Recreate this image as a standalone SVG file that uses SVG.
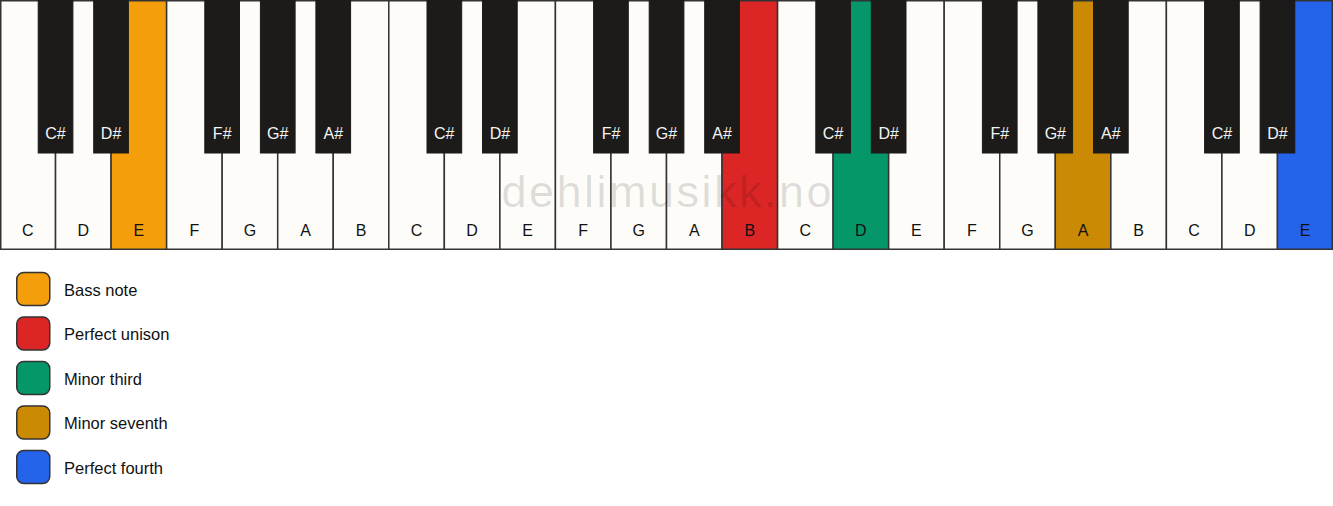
<svg xmlns="http://www.w3.org/2000/svg" width="1333" height="506" viewBox="0 0 1333 506">
<style>
.wk{fill:#fdfcf9;stroke:#333;stroke-width:1.5}
.bk{fill:#1c1b19;stroke:#1c1b19;stroke-width:1}
.wl{font-family:"Liberation Sans",Arial,sans-serif;font-size:16px;fill:#111;text-anchor:middle}
.bl{font-family:"Liberation Sans",Arial,sans-serif;font-size:16px;fill:#f4f4f4;text-anchor:middle}
.lg{stroke:#333;stroke-width:1.5}
.lt{font-family:"Liberation Sans",Arial,sans-serif;font-size:16.5px;fill:#111}
.wm{font-family:"Liberation Sans",Arial,sans-serif;font-size:45px;fill:#000;fill-opacity:0.12;text-anchor:middle}
</style>
<rect width="1333" height="506" fill="#ffffff"/>
<g id="white-keys">
<g id="wk-0"><rect class="wk" x="0.75" y="0.75" width="54.79" height="248.5"/><text class="wl" x="27.8" y="236">C</text></g>
<g id="wk-1"><rect class="wk" x="55.54" y="0.75" width="55.54" height="248.5"/><text class="wl" x="83.3" y="236">D</text></g>
<g id="wk-2"><rect class="wk" x="111.08" y="0.75" width="55.54" height="248.5" style="fill:#f59e0b"/><text class="wl" x="138.9" y="236">E</text></g>
<g id="wk-3"><rect class="wk" x="166.63" y="0.75" width="55.54" height="248.5"/><text class="wl" x="194.4" y="236">F</text></g>
<g id="wk-4"><rect class="wk" x="222.17" y="0.75" width="55.54" height="248.5"/><text class="wl" x="249.9" y="236">G</text></g>
<g id="wk-5"><rect class="wk" x="277.71" y="0.75" width="55.54" height="248.5"/><text class="wl" x="305.5" y="236">A</text></g>
<g id="wk-6"><rect class="wk" x="333.25" y="0.75" width="55.54" height="248.5"/><text class="wl" x="361" y="236">B</text></g>
<g id="wk-7"><rect class="wk" x="388.79" y="0.75" width="55.54" height="248.5"/><text class="wl" x="416.6" y="236">C</text></g>
<g id="wk-8"><rect class="wk" x="444.33" y="0.75" width="55.54" height="248.5"/><text class="wl" x="472.1" y="236">D</text></g>
<g id="wk-9"><rect class="wk" x="499.88" y="0.75" width="55.54" height="248.5"/><text class="wl" x="527.6" y="236">E</text></g>
<g id="wk-10"><rect class="wk" x="555.42" y="0.75" width="55.54" height="248.5"/><text class="wl" x="583.2" y="236">F</text></g>
<g id="wk-11"><rect class="wk" x="610.96" y="0.75" width="55.54" height="248.5"/><text class="wl" x="638.7" y="236">G</text></g>
<g id="wk-12"><rect class="wk" x="666.5" y="0.75" width="55.54" height="248.5"/><text class="wl" x="694.3" y="236">A</text></g>
<g id="wk-13"><rect class="wk" x="722.04" y="0.75" width="55.54" height="248.5" style="fill:#dc2626"/><text class="wl" x="749.8" y="236">B</text></g>
<g id="wk-14"><rect class="wk" x="777.58" y="0.75" width="55.54" height="248.5"/><text class="wl" x="805.4" y="236">C</text></g>
<g id="wk-15"><rect class="wk" x="833.13" y="0.75" width="55.54" height="248.5" style="fill:#059669"/><text class="wl" x="860.9" y="236">D</text></g>
<g id="wk-16"><rect class="wk" x="888.67" y="0.75" width="55.54" height="248.5"/><text class="wl" x="916.4" y="236">E</text></g>
<g id="wk-17"><rect class="wk" x="944.21" y="0.75" width="55.54" height="248.5"/><text class="wl" x="972" y="236">F</text></g>
<g id="wk-18"><rect class="wk" x="999.75" y="0.75" width="55.54" height="248.5"/><text class="wl" x="1027.5" y="236">G</text></g>
<g id="wk-19"><rect class="wk" x="1055.29" y="0.75" width="55.54" height="248.5" style="fill:#ca8a04"/><text class="wl" x="1083.1" y="236">A</text></g>
<g id="wk-20"><rect class="wk" x="1110.83" y="0.75" width="55.54" height="248.5"/><text class="wl" x="1138.6" y="236">B</text></g>
<g id="wk-21"><rect class="wk" x="1166.38" y="0.75" width="55.54" height="248.5"/><text class="wl" x="1194.1" y="236">C</text></g>
<g id="wk-22"><rect class="wk" x="1221.92" y="0.75" width="55.54" height="248.5"/><text class="wl" x="1249.7" y="236">D</text></g>
<g id="wk-23"><rect class="wk" x="1277.46" y="0.75" width="54.79" height="248.5" style="fill:#2563eb"/><text class="wl" x="1305.2" y="236">E</text></g>
</g>
<text class="wm" x="666.5" y="207" textLength="330" lengthAdjust="spacing">dehlimusikk.no</text>
<g id="black-keys">
<g id="bk-0"><rect class="bk" x="38.2" y="0" width="34.7" height="153"/><text class="bl" x="55.5" y="139">C#</text></g>
<g id="bk-1"><rect class="bk" x="93.7" y="0" width="34.7" height="153"/><text class="bl" x="111.1" y="139">D#</text></g>
<g id="bk-2"><rect class="bk" x="204.8" y="0" width="34.7" height="153"/><text class="bl" x="222.2" y="139">F#</text></g>
<g id="bk-3"><rect class="bk" x="260.4" y="0" width="34.7" height="153"/><text class="bl" x="277.7" y="139">G#</text></g>
<g id="bk-4"><rect class="bk" x="315.9" y="0" width="34.7" height="153"/><text class="bl" x="333.3" y="139">A#</text></g>
<g id="bk-5"><rect class="bk" x="427" y="0" width="34.7" height="153"/><text class="bl" x="444.3" y="139">C#</text></g>
<g id="bk-6"><rect class="bk" x="482.5" y="0" width="34.7" height="153"/><text class="bl" x="499.9" y="139">D#</text></g>
<g id="bk-7"><rect class="bk" x="593.6" y="0" width="34.7" height="153"/><text class="bl" x="611" y="139">F#</text></g>
<g id="bk-8"><rect class="bk" x="649.2" y="0" width="34.7" height="153"/><text class="bl" x="666.5" y="139">G#</text></g>
<g id="bk-9"><rect class="bk" x="704.7" y="0" width="34.7" height="153"/><text class="bl" x="722" y="139">A#</text></g>
<g id="bk-10"><rect class="bk" x="815.8" y="0" width="34.7" height="153"/><text class="bl" x="833.1" y="139">C#</text></g>
<g id="bk-11"><rect class="bk" x="871.3" y="0" width="34.7" height="153"/><text class="bl" x="888.7" y="139">D#</text></g>
<g id="bk-12"><rect class="bk" x="982.4" y="0" width="34.7" height="153"/><text class="bl" x="999.8" y="139">F#</text></g>
<g id="bk-13"><rect class="bk" x="1037.9" y="0" width="34.7" height="153"/><text class="bl" x="1055.3" y="139">G#</text></g>
<g id="bk-14"><rect class="bk" x="1093.5" y="0" width="34.7" height="153"/><text class="bl" x="1110.8" y="139">A#</text></g>
<g id="bk-15"><rect class="bk" x="1204.6" y="0" width="34.7" height="153"/><text class="bl" x="1221.9" y="139">C#</text></g>
<g id="bk-16"><rect class="bk" x="1260.1" y="0" width="34.7" height="153"/><text class="bl" x="1277.5" y="139">D#</text></g>
</g>
<g id="legend">
<g id="lg-bass"><rect class="lg" x="16.75" y="272.5" width="33" height="33" rx="7" fill="#f59e0b"/><text class="lt" x="64" y="295.7">Bass note</text></g>
<g id="lg-unison"><rect class="lg" x="16.75" y="317" width="33" height="33" rx="7" fill="#dc2626"/><text class="lt" x="64" y="340.2">Perfect unison</text></g>
<g id="lg-third"><rect class="lg" x="16.75" y="361.5" width="33" height="33" rx="7" fill="#059669"/><text class="lt" x="64" y="384.7">Minor third</text></g>
<g id="lg-seventh"><rect class="lg" x="16.75" y="406" width="33" height="33" rx="7" fill="#ca8a04"/><text class="lt" x="64" y="429.2">Minor seventh</text></g>
<g id="lg-fourth"><rect class="lg" x="16.75" y="450.5" width="33" height="33" rx="7" fill="#2563eb"/><text class="lt" x="64" y="473.7">Perfect fourth</text></g>
</g>
</svg>
